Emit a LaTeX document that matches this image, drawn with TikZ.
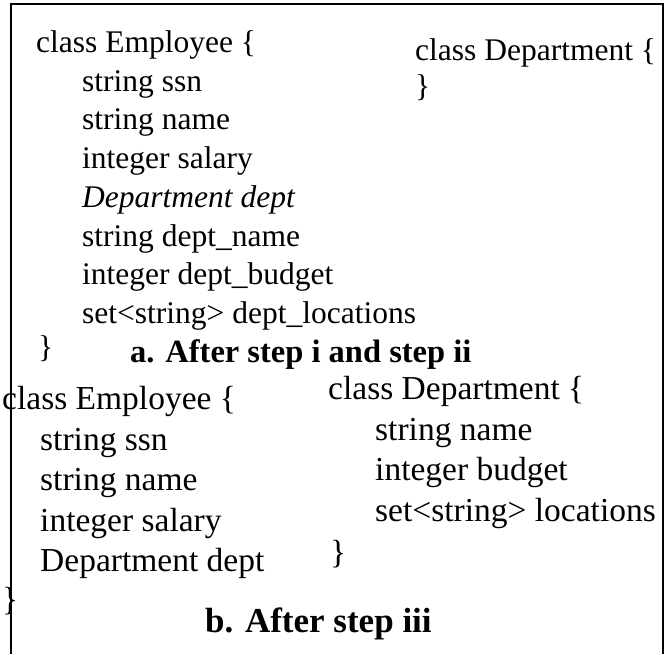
\documentclass[tikz,border=0pt]{standalone}
\usepackage{fontspec}
\setmainfont{Liberation Serif}
\usepackage{tikz}
\definecolor{noir}{rgb}{0, 0, 0}

\begin{document}
\begin{tikzpicture}[x=1pt, y=-1pt]
	\tikzstyle{ligneA}=[anchor=base west, inner sep=0pt, text=noir, font=\fontsize{31.5}{31.5}\selectfont]
	\tikzstyle{ligneB}=[anchor=base west, inner sep=0pt, text=noir, font=\fontsize{33.5}{33.5}\selectfont]
	\tikzstyle{titreA}=[anchor=base west, inner sep=0pt, text=noir, font=\fontsize{32.5}{32.5}\selectfont\bfseries]
	\tikzstyle{titreB}=[anchor=base west, inner sep=0pt, text=noir, font=\fontsize{35}{35}\selectfont\bfseries]

	\useasboundingbox (0,0) rectangle (668,654);

	% CADRE
	\draw[line width=2.5pt] (11,654) -- (11,4) -- (663,4) -- (663,654);

	% APRES ETAPES I ET II
	\node[ligneA] (EmpA) at (36, 52) {class Employee \{};
	\node[ligneA] (EmpA1) at (82, 91) {string ssn};
	\node[ligneA] (EmpA2) at (82,129) {string name};
	\node[ligneA] (EmpA3) at (82,168) {integer salary};
	\node[ligneA] (EmpA4) at (82,207) {\itshape Department dept};
	\node[ligneA] (EmpA5) at (82,246) {string dept\_name};
	\node[ligneA] (EmpA6) at (82,284) {integer dept\_budget};
	\node[ligneA] (EmpA7) at (82,323) {set<string> dept\_locations};
	\node[ligneA] (EmpAf) at (38,357) {\}};
	\node[ligneA] (DepA) at (415, 60) {class Department \{};
	\node[ligneA] (DepAf) at (415, 96) {\}};
	\node[titreA] (TitreA) at (130,362) {a. After step i and step ii};

	% APRES ETAPE III
	\node[ligneB] (EmpB) at (2,409) {class Employee \{};
	\node[ligneB] (EmpB1) at (40,450) {string ssn};
	\node[ligneB] (EmpB2) at (40,490) {string name};
	\node[ligneB] (EmpB3) at (40,531) {integer salary};
	\node[ligneB] (EmpB4) at (40,571) {Department dept};
	\node[ligneB] (EmpBf) at (2,610) {\}};
	\node[ligneB] (DepB) at (328,399) {class Department \{};
	\node[ligneB] (DepB1) at (375,440) {string name};
	\node[ligneB] (DepB2) at (375,480) {integer budget};
	\node[ligneB] (DepB3) at (375,521) {set<string> locations};
	\node[ligneB] (DepBf) at (330,563) {\}};
	\node[titreB] (TitreB) at (205,632) {b. After step iii};
\end{tikzpicture}
\end{document}
